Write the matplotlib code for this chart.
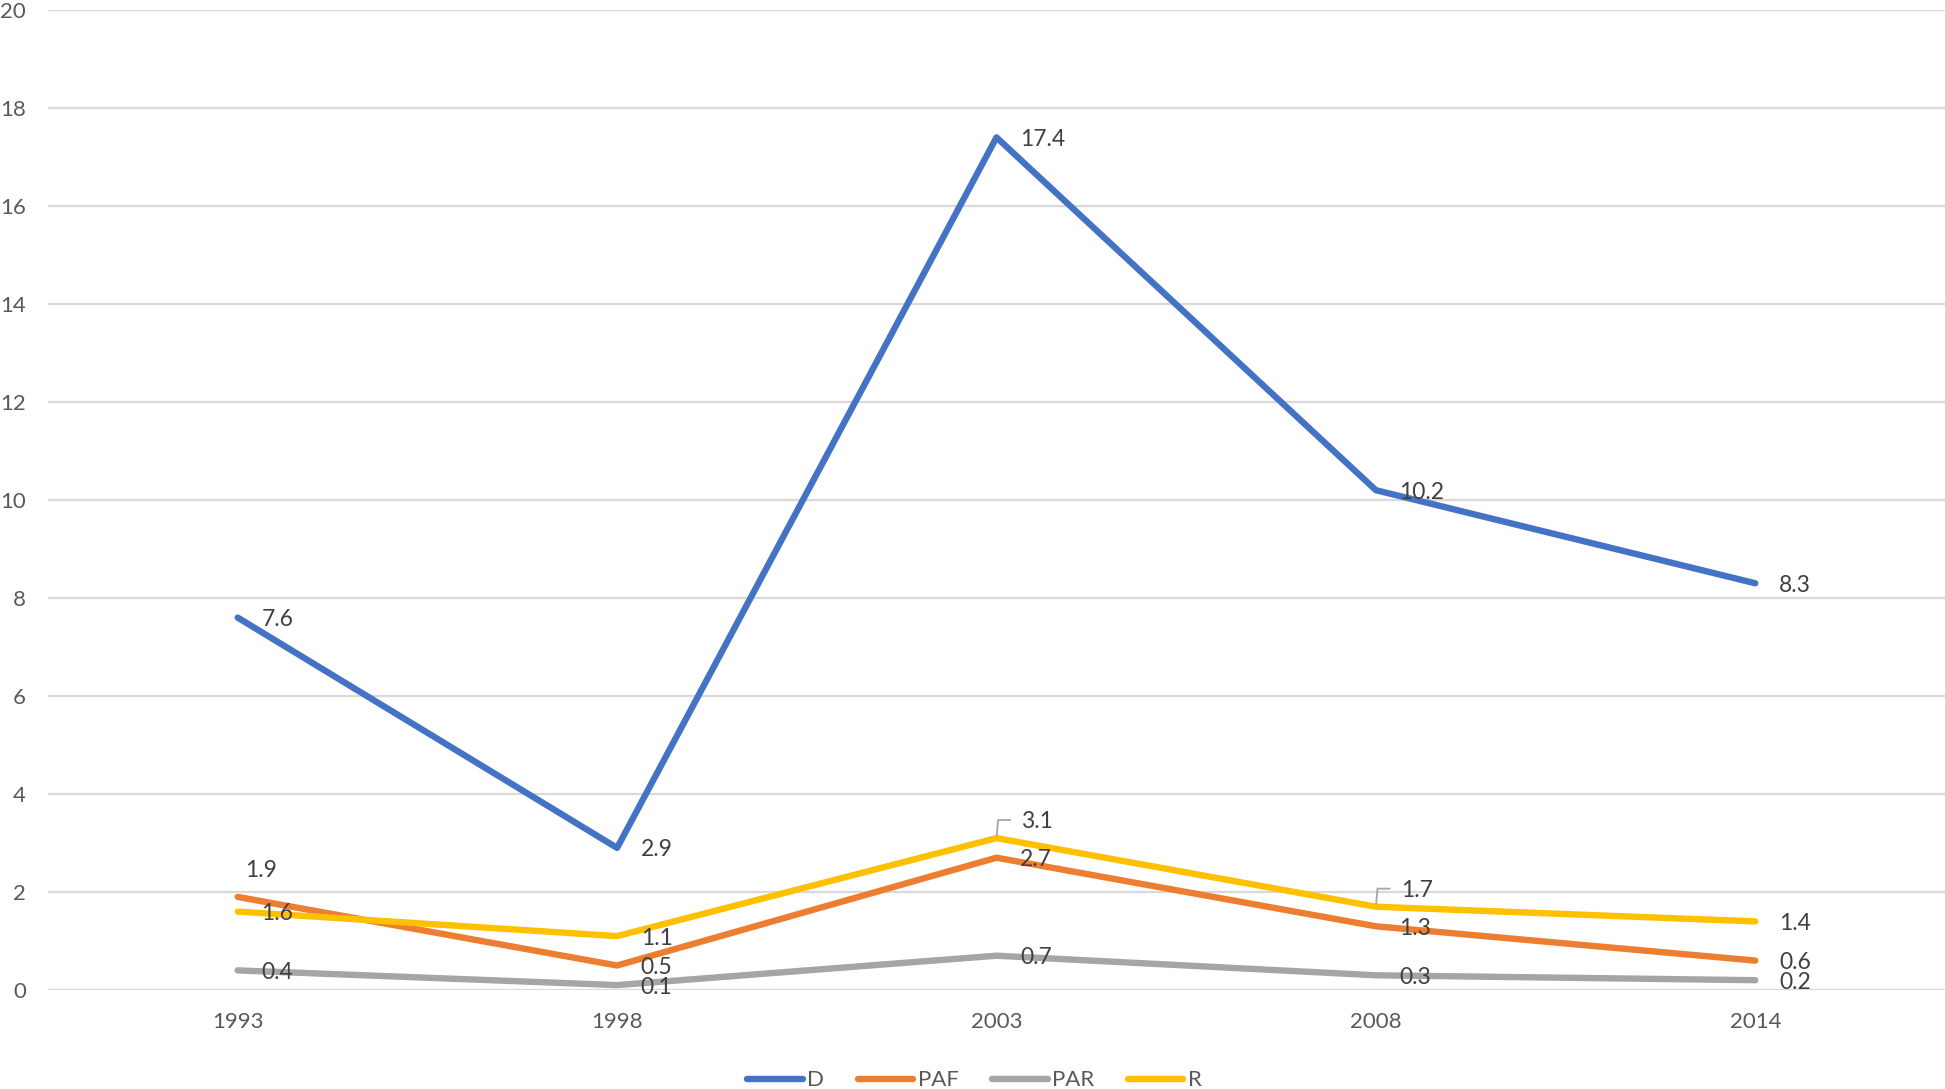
import numpy as np
import matplotlib.pyplot as plt

plt.rcParams["font.family"] = ["Lato", "DejaVu Sans"]

# -- data ---------------------------------------------------------------------
years = ["1993", "1998", "2003", "2008", "2014"]
d_vals = [7.6, 2.9, 17.4, 10.2, 8.3]
paf_vals = [1.9, 0.5, 2.7, 1.3, 0.6]
par_vals = [0.4, 0.1, 0.7, 0.3, 0.2]
r_vals = [1.6, 1.1, 3.1, 1.7, 1.4]

series = [
    ("D", d_vals, "#4472C4"),
    ("PAF", paf_vals, "#ED7D31"),
    ("PAR", par_vals, "#A5A5A5"),
    ("R", r_vals, "#FFC000"),
]

# -- figure -------------------------------------------------------------------
fig = plt.figure(figsize=(19.45, 10.89), dpi=100)
ax = fig.add_axes([48 / 1945, 1 - 990 / 1089, 1 - 48 / 1945, 980 / 1089])

x = np.arange(len(years))
for name, vals, color in series:
    ax.plot(x, vals, color=color, lw=4.6, solid_capstyle="round",
            solid_joinstyle="round", label=name, zorder=3)

# data labels: default to the right of the point
label_kw = dict(fontsize=16.5, color="#404040", va="center", ha="left",
                textcoords="offset points", zorder=4)
for name, vals, color in series:
    for i, v in enumerate(vals):
        txt = f"{v:.1f}"
        if name == "PAF" and i == 0:
            ax.annotate(txt, (i, v), xytext=(5, 19), **label_kw)
        elif name == "R" and i in (2, 3):
            ax.annotate(txt, (i, v), xytext=(18, 12), **label_kw)
            # leader line
            ax.annotate("", (i, v), xytext=(10, 13), textcoords="offset points",
                        arrowprops=dict(arrowstyle="-", color="#A6A6A6", lw=1.3,
                                        connectionstyle="angle,angleA=0,angleB=85,rad=0",
                                        shrinkA=0, shrinkB=2))
        else:
            ax.annotate(txt, (i, v), xytext=(17, -1.5), **label_kw)

ax.set_xlim(-0.5, len(years) - 0.5)
ax.set_ylim(0, 20)
ax.set_yticks(np.arange(0, 21, 2))
ax.set_xticks(x)
ax.set_xticklabels(years)
ax.tick_params(axis="both", length=0, labelsize=16, labelcolor="#595959")
ax.tick_params(axis="y", pad=16)
ax.tick_params(axis="x", pad=16)
ax.grid(axis="y", color="#D9D9D9", lw=1.6, zorder=0)
for s in ax.spines.values():
    s.set_visible(False)

fig.legend(loc="center", bbox_to_anchor=(0.501, 0.008), ncol=4, frameon=False,
           fontsize=16, handlelength=2.5, handletextpad=0.2, columnspacing=1.5,
           labelcolor="#595959")

fig.savefig("out.png", dpi=100)
plt.close(fig)
